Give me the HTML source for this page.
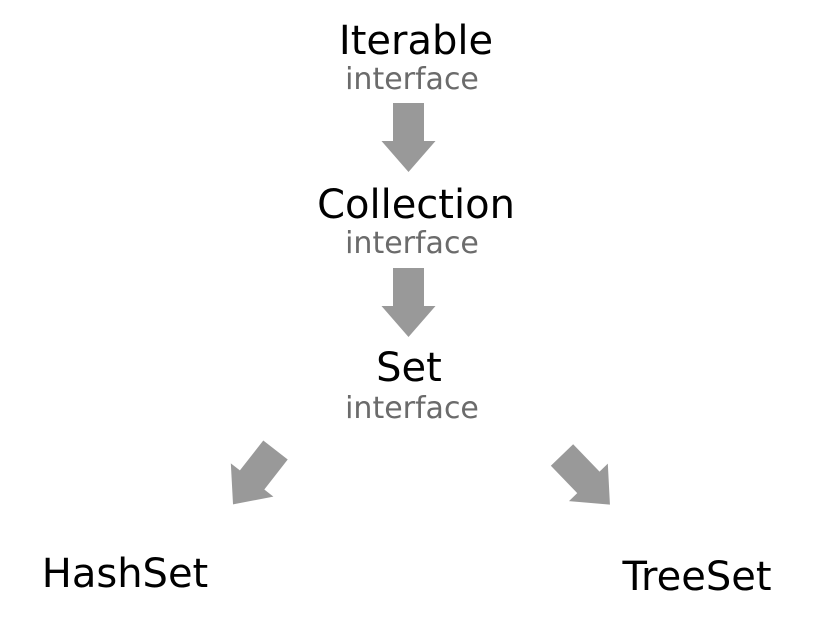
<!DOCTYPE html>
<html><head><style>html,body{margin:0;padding:0;background:#fff}svg{display:block}</style></head>
<body>
<svg width="829" height="633" viewBox="0 0 829 633" xmlns="http://www.w3.org/2000/svg" font-family="DejaVu Sans, Liberation Sans, sans-serif">
<g fill="#000" font-size="40" text-anchor="middle">
<text x="416" y="54">Iterable</text>
<text x="416" y="218">Collection</text>
<text x="409" y="381">Set</text>
<text x="125" y="587">HashSet</text>
<text x="697" y="590">TreeSet</text>
</g>
<g fill="#6b6b6b" font-size="30" text-anchor="middle">
<text x="412" y="89">interface</text>
<text x="412" y="253">interface</text>
<text x="412" y="418">interface</text>
</g>
<defs>
<polygon id="a" points="-15.5,0 15.5,0 15.5,38 27,38 0,69 -27,38 -15.5,38"/>
</defs>
<g fill="#999">
<use href="#a" transform="translate(408.5,103)"/>
<use href="#a" transform="translate(408.5,268)"/>
<use href="#a" transform="translate(275.5,450) rotate(38)"/>
<use href="#a" transform="translate(562,455) rotate(-44)"/>
</g>
</svg>
</body></html>
